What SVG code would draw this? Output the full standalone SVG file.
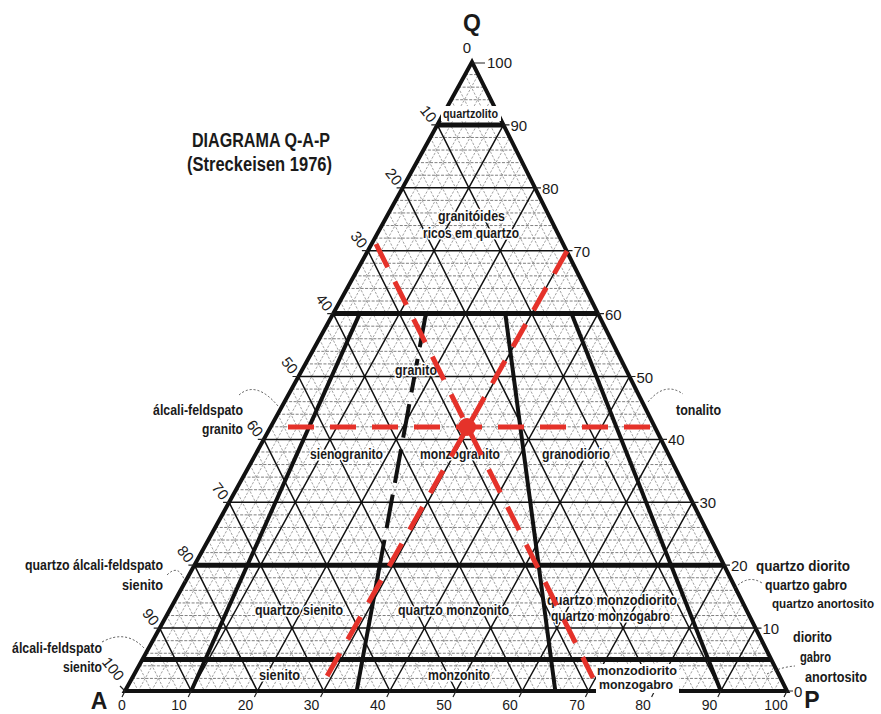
<svg xmlns="http://www.w3.org/2000/svg" width="881" height="714" viewBox="0 0 881 714">
<defs>
<style>
.lbl{font-family:"Liberation Sans Narrow","Liberation Sans",Arial,sans-serif;font-weight:bold;font-size:15px;fill:#1a1a1a;}
.in{paint-order:stroke;stroke:#fff;stroke-width:3px;stroke-linejoin:round;}
.ttl{font-size:20px;}
.sm{font-size:12px;}
.md{font-size:13px;}
.num{font-family:"Liberation Sans",Arial,sans-serif;font-size:15px;fill:#1a1a1a;}
.bn{font-size:14px;}
.big{font-family:"Liberation Sans",Arial,sans-serif;font-weight:bold;font-size:23px;fill:#1a1a1a;}
.fine{fill:none;stroke:#8a8a8a;stroke-width:0.8;stroke-dasharray:2.5 1.5;}
.fineh{fill:none;stroke:#707070;stroke-width:0.9;stroke-dasharray:3 1.5;}
.grid{fill:none;stroke:#111;stroke-width:1.5;}
.heavy{fill:none;stroke:#111;stroke-width:5;}
.bound{fill:none;stroke:#111;stroke-width:4;}
.tick{fill:none;stroke:#222;stroke-width:1.2;}
.lead{fill:none;stroke:#444;stroke-width:0.9;stroke-dasharray:2 2;}
.red{fill:none;stroke:#e5322a;stroke-width:5;stroke-dasharray:26 16;}
</style>
</defs>
<rect width="881" height="714" fill="#fff"/>

<g id="grid">
<g transform="matrix(6.62,0,3.47,-6.29,125,691)">
<path class="fineh" vector-effect="non-scaling-stroke" d="M0 2H98M0 4H96M0 6H94M0 8H92M0 12H88M0 14H86M0 16H84M0 18H82M0 22H78M0 24H76M0 26H74M0 28H72M0 32H68M0 34H66M0 36H64M0 38H62M0 42H58M0 44H56M0 46H54M0 48H52M0 52H48M0 54H46M0 56H44M0 58H42M0 62H38M0 64H36M0 66H34M0 68H32M0 72H28M0 74H26M0 76H24M0 78H22M0 82H18M0 84H16M0 86H14M0 88H12M0 92H8M0 94H6M0 96H4M0 98H2"/>
<path class="fine" vector-effect="non-scaling-stroke" d="M2 0V98M4 0V96M6 0V94M8 0V92M12 0V88M14 0V86M16 0V84M18 0V82M22 0V78M24 0V76M26 0V74M28 0V72M32 0V68M34 0V66M36 0V64M38 0V62M42 0V58M44 0V56M46 0V54M48 0V52M52 0V48M54 0V46M56 0V44M58 0V42M62 0V38M64 0V36M66 0V34M68 0V32M72 0V28M74 0V26M76 0V24M78 0V22M82 0V18M84 0V16M86 0V14M88 0V12M92 0V8M94 0V6M96 0V4M98 0V2"/>
<path class="fine" vector-effect="non-scaling-stroke" d="M0 2L2 0M0 4L4 0M0 6L6 0M0 8L8 0M0 12L12 0M0 14L14 0M0 16L16 0M0 18L18 0M0 22L22 0M0 24L24 0M0 26L26 0M0 28L28 0M0 32L32 0M0 34L34 0M0 36L36 0M0 38L38 0M0 42L42 0M0 44L44 0M0 46L46 0M0 48L48 0M0 52L52 0M0 54L54 0M0 56L56 0M0 58L58 0M0 62L62 0M0 64L64 0M0 66L66 0M0 68L68 0M0 72L72 0M0 74L74 0M0 76L76 0M0 78L78 0M0 82L82 0M0 84L84 0M0 86L86 0M0 88L88 0M0 92L92 0M0 94L94 0M0 96L96 0M0 98L98 0"/>
<path class="grid" vector-effect="non-scaling-stroke" d="M0 10H90M0 20H80M0 30H70M0 40H60M0 50H50M0 60H40M0 70H30M0 80H20M0 90H10M10 0V90M20 0V80M30 0V70M40 0V60M50 0V50M60 0V40M70 0V30M80 0V20M90 0V10M0 10L10 0M0 20L20 0M0 30L30 0M0 40L40 0M0 50L50 0M0 60L60 0M0 70L70 0M0 80L80 0M0 90L90 0"/>
</g>
</g>

<g id="boundaries">
<path class="heavy" d="M437.3 124.9H503.5M333.2 313.6H598M194.4 565.2H724M142.4 659.5H771.2"/>
<path class="bound" d="M359.7 313.6L191.2 691M379.8 565.2L356.7 691M505.3 313.6L555.3 691M571.5 313.6L720.8 691"/>
<path class="bound" stroke-width="3" stroke-dasharray="34 12" d="M425.9 313.6L379.8 565.2"/>
<path fill="none" stroke="#111" stroke-width="4" stroke-linejoin="miter" d="M125 691L787 691L472 62Z"/>
</g>

<g id="ticks">
<path class="tick" d="M472 63H485M503.5 124.9h6M535 187.8h6M566.5 250.7h6M598 313.6h6M629.5 376.5h6M661 439.4h6M692.5 502.3h6M724 565.2h6M755.5 628.1h6M787 691h6"/>
<path class="tick" d="M437.3 124.9h-6M402.6 187.8h-6M367.9 250.7h-6M333.2 313.6h-6M298.5 376.5h-6M263.8 439.4h-6M229.1 502.3h-6M194.4 565.2h-6M159.7 628.1h-6M125 691l-5 -5"/>
<path class="tick" d="M125 691l-3 6M191.2 691l-3 6M257.4 691l-3 6M323.6 691l-3 6M389.8 691l-3 6M456 691l-3 6M522.2 691l-3 6M588.4 691l-3 6M654.6 691l-3 6M720.8 691l-3 6M787 691l-3 6"/>
</g>

<g id="axis-labels">
<text class="big" x="472" y="31" text-anchor="middle">Q</text>
<text class="big" x="99" y="709" text-anchor="middle">A</text>
<text class="big" x="812" y="708" text-anchor="middle">P</text>
<g class="num" text-anchor="middle">
<text x="467" y="53">0</text>
<text transform="translate(428.3,113.9) rotate(52)" y="5">10</text>
<text transform="translate(393.6,176.8) rotate(52)" y="5">20</text>
<text transform="translate(358.9,239.7) rotate(52)" y="5">30</text>
<text transform="translate(324.2,302.6) rotate(52)" y="5">40</text>
<text transform="translate(289.5,365.5) rotate(52)" y="5">50</text>
<text transform="translate(254.8,428.4) rotate(52)" y="5">60</text>
<text transform="translate(220.1,491.3) rotate(52)" y="5">70</text>
<text transform="translate(185.4,554.2) rotate(52)" y="5">80</text>
<text transform="translate(150.7,617.1) rotate(52)" y="5">90</text>
<text transform="translate(113,669) rotate(52)" y="5">100</text>
</g>
<g class="num bn" text-anchor="middle">
<text x="122" y="710">0</text>
<text x="179" y="710">10</text>
<text x="245.5" y="710">20</text>
<text x="311.6" y="710">30</text>
<text x="377.8" y="710">40</text>
<text x="444" y="710">50</text>
<text x="510" y="710">60</text>
<text x="577" y="710">70</text>
<text x="643" y="710">80</text>
<text x="709.5" y="710">90</text>
<text x="776" y="710">100</text>
</g>
<g class="num">
<text x="487" y="68">100</text>
<text x="510.5" y="131">90</text>
<text x="542" y="194">80</text>
<text x="573.5" y="257">70</text>
<text x="605" y="320">60</text>
<text x="636.5" y="383">50</text>
<text x="668" y="445">40</text>
<text x="699.5" y="508">30</text>
<text x="731" y="571">20</text>
<text x="762.5" y="634">10</text>
<text x="794" y="697">0</text>
</g>
</g>

<g id="title">
<text class="lbl ttl" x="192" y="147" textLength="138" lengthAdjust="spacingAndGlyphs">DIAGRAMA Q-A-P</text>
<text class="lbl ttl" x="187" y="171" textLength="145" lengthAdjust="spacingAndGlyphs">(Streckeisen 1976)</text>
</g>

<g id="leaders">
<path class="lead" d="M239 395Q256 380 278 406"/>
<path class="lead" d="M648 402Q665 381 683 394"/>
<path class="lead" d="M167 575Q179 563 185 582"/>
<path class="lead" d="M102 642Q126 629 144 648"/>
<path class="lead" d="M735 588Q748 574 762 583"/>
<path class="lead" d="M767 674Q781 667 795 666"/>
</g>

<g id="quartzolito">
<rect x="441" y="106" width="60" height="15" fill="#fff"/>
<text class="lbl sm" x="443" y="118" textLength="55" lengthAdjust="spacingAndGlyphs">quartzolito</text>
</g>
<g id="granitoides-ricos">
<text class="lbl in" x="438" y="221" textLength="67" lengthAdjust="spacingAndGlyphs">granitóides</text>
<text class="lbl in" x="423" y="238" textLength="96" lengthAdjust="spacingAndGlyphs">ricos em quartzo</text>
</g>
<g id="granito">
<text class="lbl in" x="395" y="375" textLength="42" lengthAdjust="spacingAndGlyphs">granito</text>
</g>
<g id="alcali-feldspato-granito">
<text class="lbl" x="153" y="415" textLength="90" lengthAdjust="spacingAndGlyphs">álcali-feldspato</text>
<text class="lbl" x="202" y="434" textLength="41" lengthAdjust="spacingAndGlyphs">granito</text>
</g>
<g id="sienogranito"><text class="lbl in" x="310" y="459" textLength="73" lengthAdjust="spacingAndGlyphs">sienogranito</text></g>
<g id="monzogranito"><text class="lbl in" x="420" y="459" textLength="80" lengthAdjust="spacingAndGlyphs">monzogranito</text></g>
<g id="granodiorio"><text class="lbl in" x="542" y="459" textLength="68" lengthAdjust="spacingAndGlyphs">granodiorio</text></g>
<g id="tonalito"><text class="lbl" x="676" y="415" textLength="45" lengthAdjust="spacingAndGlyphs">tonalito</text></g>
<g id="quartzo-alcali-feldspato-sienito">
<text class="lbl" x="25" y="570" textLength="138" lengthAdjust="spacingAndGlyphs">quartzo álcali-feldspato</text>
<text class="lbl" x="122" y="590" textLength="41" lengthAdjust="spacingAndGlyphs">sienito</text>
</g>
<g id="alcali-feldspato-sienito">
<text class="lbl" x="12" y="653" textLength="90" lengthAdjust="spacingAndGlyphs">álcali-feldspato</text>
<text class="lbl" x="63" y="672" textLength="39" lengthAdjust="spacingAndGlyphs">sienito</text>
</g>
<g id="quartzo-sienito"><text class="lbl in" x="255" y="615" textLength="88" lengthAdjust="spacingAndGlyphs">quartzo sienito</text></g>
<g id="quartzo-monzonito"><text class="lbl in" x="398" y="615" textLength="111" lengthAdjust="spacingAndGlyphs">quartzo monzonito</text></g>
<g id="quartzo-monzodiorito">
<text class="lbl in" x="547" y="605" textLength="130" lengthAdjust="spacingAndGlyphs">quartzo monzodiorito</text>
<text class="lbl in" x="551" y="621" textLength="119" lengthAdjust="spacingAndGlyphs">quartzo monzogabro</text>
</g>
<g id="quartzo-diorito">
<text class="lbl" x="756" y="571" textLength="94" lengthAdjust="spacingAndGlyphs">quartzo diorito</text>
<text class="lbl" x="765" y="590" textLength="82" lengthAdjust="spacingAndGlyphs">quartzo gabro</text>
<text class="lbl sm" x="772" y="608" textLength="102" lengthAdjust="spacingAndGlyphs">quartzo anortosito</text>
</g>
<g id="diorito">
<text class="lbl" x="793" y="642" textLength="39" lengthAdjust="spacingAndGlyphs">diorito</text>
<text class="lbl" x="800" y="662" textLength="31" lengthAdjust="spacingAndGlyphs">gabro</text>
<text class="lbl" x="805" y="682" textLength="62" lengthAdjust="spacingAndGlyphs">anortosito</text>
</g>
<g id="sienito"><text class="lbl in" x="259" y="680" textLength="41" lengthAdjust="spacingAndGlyphs">sienito</text></g>
<g id="monzonito"><text class="lbl in" x="428" y="680" textLength="62" lengthAdjust="spacingAndGlyphs">monzonito</text></g>
<g id="monzodiorito">
<rect x="596" y="664" width="83" height="29" fill="#fff"/>
<text class="lbl md" x="597" y="675" textLength="80" lengthAdjust="spacingAndGlyphs">monzodiorito</text>
<text class="lbl md" x="599" y="689" textLength="74" lengthAdjust="spacingAndGlyphs">monzogabro</text>
</g>

<g id="connectors">
<path class="red" d="M288 427H652"/>
<path class="red" d="M376 244L593 678"/>
<path class="red" d="M567 251L326 678"/>
<circle cx="467" cy="427" r="9" fill="#e5322a"/>
</g>
</svg>
